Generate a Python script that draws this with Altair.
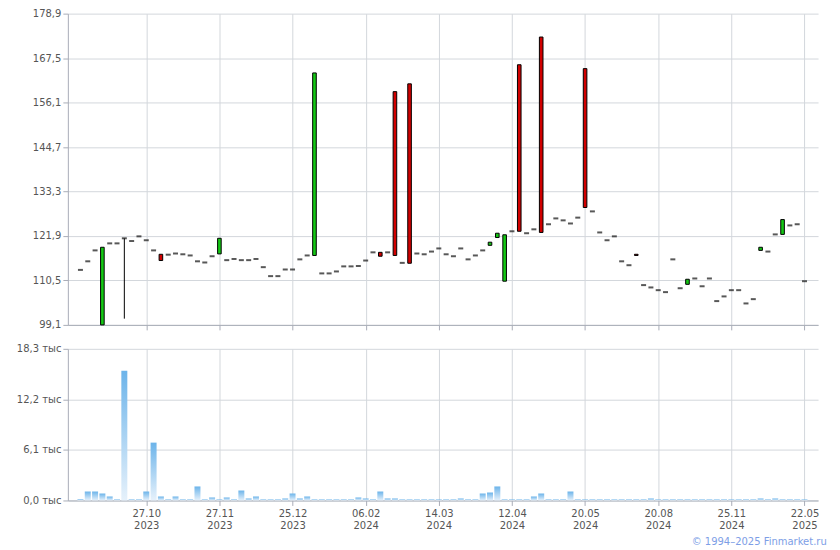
import altair as alt
import pandas as pd

# ---- data (weekly candles, index-based axis) ----
idx = list(range(100))
opens = [113.2, 115.4, 118.2, 99.1, 120.0, 120.0, 121.3, 120.6, 121.8, 120.8,
         118.2, 117.2, 117.1, 117.4, 117.2, 116.9, 115.4, 115.1, 116.7, 117.3,
         115.7, 116.0, 115.7, 115.7, 116.0, 113.9, 111.6, 111.6, 113.3, 113.3,
         115.9, 116.9, 116.9, 112.3, 112.3, 112.8, 114.1, 114.1, 114.2, 115.6,
         117.7, 117.7, 117.7, 158.9, 115.0, 160.9, 117.4, 117.2, 117.9, 118.7,
         117.2, 116.7, 118.7, 115.9, 116.9, 118.2, 119.5, 121.5, 110.3, 123.1,
         165.8, 122.6, 123.6, 172.9, 124.9, 126.4, 125.9, 125.1, 126.6, 164.8,
         128.2, 122.8, 120.8, 121.8, 115.4, 114.4, 117.2, 109.3, 108.7, 108.0,
         107.5, 115.9, 108.5, 109.5, 111.0, 109.0, 111.0, 105.2, 106.4, 108.0,
         108.0, 104.6, 105.7, 118.2, 117.9, 122.3, 122.3, 124.6, 124.9, 110.3]
closes = [113.2, 115.4, 118.2, 119.0, 120.0, 120.0, 121.3, 120.6, 121.8, 120.8,
          118.2, 115.6, 117.1, 117.4, 117.2, 116.9, 115.4, 115.1, 116.7, 121.3,
          115.7, 116.0, 115.7, 115.7, 116.0, 113.9, 111.6, 111.6, 113.3, 113.3,
          115.9, 116.9, 163.7, 112.3, 112.3, 112.8, 114.1, 114.1, 114.2, 115.6,
          117.7, 116.7, 117.7, 116.9, 115.0, 114.9, 117.4, 117.2, 117.9, 118.7,
          117.2, 116.7, 118.7, 115.9, 116.9, 118.2, 120.3, 122.6, 122.2, 123.1,
          123.1, 122.6, 123.6, 122.8, 124.9, 126.4, 125.9, 125.1, 126.6, 129.2,
          128.2, 122.8, 120.8, 121.8, 115.4, 114.4, 116.9, 109.3, 108.7, 108.0,
          107.5, 115.9, 108.5, 110.8, 111.0, 109.0, 111.0, 105.2, 106.4, 108.0,
          108.0, 104.6, 105.7, 119.0, 117.9, 122.3, 126.1, 124.6, 124.9, 110.3]
# the only visible wick
wick_idx = [6]
wick_low = [100.7]
wick_high = [121.3]
# volume, thousands
volumes = [0.15, 1.08, 1.08, 0.84, 0.48, 0.12, 15.65, 0.12, 0.12, 1.08,
           6.98, 0.48, 0.12, 0.48, 0.12, 0.12, 1.69, 0.12, 0.36, 0.12,
           0.36, 0.12, 1.2, 0.24, 0.48, 0.12, 0.12, 0.12, 0.24, 0.84,
           0.24, 0.48, 0.12, 0.12, 0.12, 0.12, 0.12, 0.12, 0.36, 0.24,
           0.12, 1.08, 0.24, 0.24, 0.12, 0.12, 0.12, 0.12, 0.12, 0.12,
           0.12, 0.12, 0.24, 0.12, 0.12, 0.84, 0.96, 1.69, 0.12, 0.12,
           0.12, 0.12, 0.48, 0.84, 0.12, 0.12, 0.12, 1.08, 0.12, 0.12,
           0.12, 0.12, 0.12, 0.12, 0.12, 0.12, 0.12, 0.12, 0.24, 0.12,
           0.12, 0.12, 0.12, 0.12, 0.12, 0.12, 0.12, 0.12, 0.12, 0.12,
           0.12, 0.12, 0.12, 0.24, 0.12, 0.24, 0.12, 0.12, 0.12, 0.12]
# x tick labels (index positions)
tick_idx = [9, 19, 29, 39, 49, 59, 69, 79, 89, 99]
tick_day = ["27.10", "27.11", "25.12", "06.02", "14.03", "12.04", "20.05", "20.08", "25.11", "22.05"]
tick_year = ["2023", "2023", "2023", "2024", "2024", "2024", "2024", "2024", "2024", "2025"]
price_ticks = [99.1, 110.5, 121.9, 133.3, 144.7, 156.1, 167.5, 178.9]
vol_ticks = [0.0, 6.1, 12.2, 18.3]

df = pd.DataFrame({"idx": idx, "open": opens, "close": closes, "vol": volumes})
wicks = pd.DataFrame({"idx": wick_idx, "low": wick_low, "high": wick_high})

GREEN = "#14c814"
RED = "#d10000"
AXIS = "#a9adb8"
GRID = "#d3d7dc"

xscale = alt.Scale(domain=[-1.04, 100.17], nice=False, zero=False)

label_expr = "''"
for i, d, y in reversed(list(zip(tick_idx, tick_day, tick_year))):
    label_expr = f"datum.value == {i} ? ['{d}', '{y}'] : " + label_expr

x_top = alt.X("idx:Q", scale=xscale,
              axis=alt.Axis(values=tick_idx, labels=False, title=None, tickSize=5))
x_bot = alt.X("idx:Q", scale=xscale,
              axis=alt.Axis(values=tick_idx, labelExpr=label_expr, title=None, tickSize=5,
                            labelLineHeight=12, labelPadding=3))

pscale = alt.Scale(domain=[99.1, 178.9], nice=False, zero=False)
p_axis = alt.Axis(values=price_ticks, title=None, tickSize=5,
                  labelExpr="replace(format(datum.value, '.1f'), '.', ',')")

rule = alt.Chart(wicks).mark_rule(color="black", strokeWidth=1).encode(
    x=x_top, y=alt.Y("low:Q", scale=pscale, axis=p_axis), y2="high:Q")

bodies = alt.Chart(df).transform_filter("datum.open != datum.close").mark_bar(
    size=3.6, stroke="black", strokeWidth=1).encode(
    x=x_top,
    y=alt.Y("open:Q", scale=pscale, axis=p_axis),
    y2="close:Q",
    fill=alt.condition("datum.close > datum.open", alt.value(GREEN), alt.value(RED)),
)

flats = alt.Chart(df).transform_filter("datum.open == datum.close").mark_tick(
    orient="horizontal", size=5, thickness=2, color="#111111").encode(
    x=x_top, y=alt.Y("open:Q", scale=pscale, axis=p_axis))

top = alt.layer(rule, bodies, flats).properties(width=752, height=312)

grad = alt.Gradient(
    gradient="linear",
    stops=[alt.GradientStop(color="#e6f1fb", offset=0),
           alt.GradientStop(color="#6cb4ea", offset=1)],
    x1=0, x2=0, y1=1, y2=0)

vol = alt.Chart(df).mark_bar(size=6, color=grad).encode(
    x=x_bot,
    y=alt.Y("vol:Q", scale=alt.Scale(domain=[0, 18.3], nice=False),
            axis=alt.Axis(values=vol_ticks, title=None, tickSize=5,
                          labelExpr="replace(format(datum.value, '.1f'), '.', ',') + ' тыс'")),
).properties(width=752, height=152)

chart = alt.vconcat(top, vol, spacing=13).properties(
    padding={"left": 8, "top": 0, "right": 5, "bottom": 0},
    title=alt.TitleParams("© 1994–2025 Finmarket.ru", orient="bottom", anchor="end",
                          color="#7d9ee6", fontSize=10, fontWeight="normal",
                          font="DejaVu Sans", offset=7, dx=8),
).configure_axis(
    domainColor=AXIS, tickColor=AXIS, gridColor=GRID,
    labelFont="DejaVu Sans", labelFontSize=10, labelColor="#555555",
).configure_view(stroke=None)

chart.save("out.html", embed_options={"renderer": "svg", "actions": False})
